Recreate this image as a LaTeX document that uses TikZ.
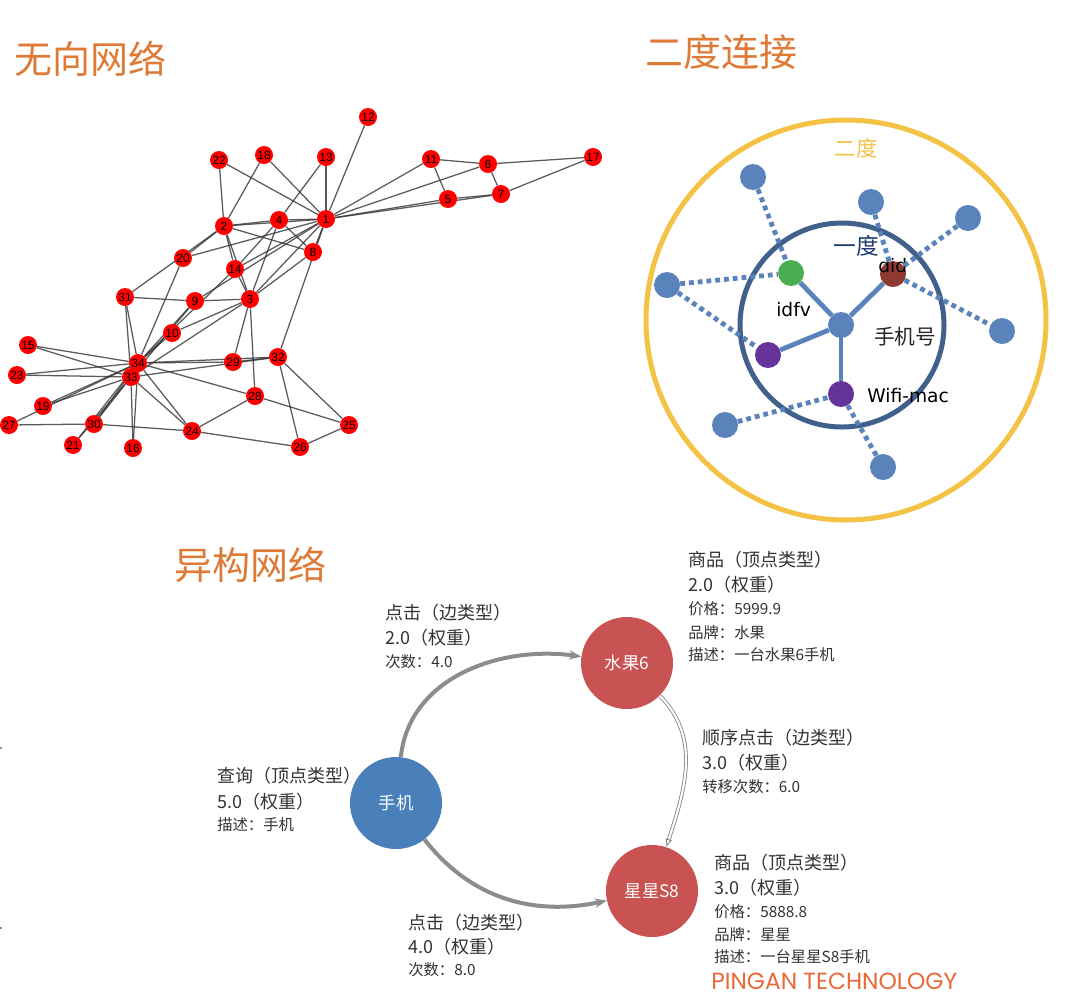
\documentclass[tikz,border=0pt]{standalone}
\usepackage{fontspec}
\setmainfont{Noto Sans CJK SC}
\newfontfamily\latf{Liberation Sans}
\newfontfamily\dejf{DejaVu Sans}
\newfontfamily\popf{Poppins}
\usetikzlibrary{arrows.meta,backgrounds}
\definecolor{ttl}{HTML}{DE7A36}
\definecolor{gold}{HTML}{F4C245}
\definecolor{navyc}{HTML}{41608C}
\definecolor{bluen}{HTML}{5A83BB}
\definecolor{greenn}{HTML}{4CAE52}
\definecolor{brownn}{HTML}{8E3A33}
\definecolor{purplen}{HTML}{66339A}
\definecolor{navyt}{HTML}{1F3A6E}
\definecolor{hblue}{HTML}{4A80BA}
\definecolor{hred}{HTML}{C95252}
\definecolor{txtc}{HTML}{333333}
\definecolor{garr}{HTML}{8C8C8C}
\definecolor{pingan}{HTML}{E8683A}
\tikzset{
  titletext/.style={anchor=west, text=ttl, font=\fontsize{28.5}{30}\selectfont, inner sep=0pt},
  kn/.style={circle, fill=red, inner sep=0pt, minimum size=13.5pt, font=\latf\fontsize{9}{9}\selectfont, text=black},
  kedge/.style={draw=black!80, line width=0.95pt, opacity=0.8},
  sn/.style={circle, fill=bluen, inner sep=0pt, minimum size=19.5pt},
  dotline/.style={draw=bluen, line width=3.6pt, dash pattern=on 3.6pt off 3pt},
  solidline/.style={draw=bluen, line width=3.6pt},
  hnode/.style={circle, inner sep=0pt, minimum size=69pt, text=white, font=\fontsize{13}{14}\selectfont},
  bigl/.style={anchor=west, inner sep=0pt, text=txtc, font=\fontsize{13.5}{14}\selectfont},
  smalll/.style={anchor=west, inner sep=0pt, text=txtc, font=\fontsize{11.5}{12}\selectfont},
  garrow/.style={draw=garr, line width=3pt, -{Stealth[length=9pt,width=7pt]}},
  darrow/.style={draw=black!50, line width=0.6pt, double=white, double distance=1.6pt, -{Latex[length=6pt,width=5pt,open]}}
}
\begin{document}
\begin{tikzpicture}[x=0.75pt,y=-0.75pt]
\useasboundingbox (0,0) rectangle (1080,1001);
\begin{pgfonlayer}{background}
\fill[white] (0,0) rectangle (1080,1001);
\end{pgfonlayer}

% titles
\node[titletext] (t1) at (14,59) {无向网络};
\node[titletext] (t2) at (645,52) {二度连接};
\node[titletext] (t3) at (174,565) {异构网络};

% ---------- undirected network ----------
\foreach \n/\x/\y in {1/326/219, 2/224/226, 3/250/299, 4/279/220, 5/448/199, 6/488/164, 7/501/194, 8/313/252,
  9/195/301, 10/172/333, 11/431/159, 12/368/117, 13/326/157, 14/235/269, 15/28/345, 16/133/448, 17/593/157,
  18/264/155, 19/43/406, 20/183/258, 21/73/445, 22/219/160, 23/17/375, 24/192/431, 25/349/425, 26/300/447,
  27/9/425, 28/255/396, 29/233/362, 30/94/424, 31/125/297, 32/278/357, 33/131/377, 34/138/363}
  \node[kn] (k\n) at (\x,\y) {\n};
\begin{pgfonlayer}{background}
\foreach \a/\b in {1/2,1/3,1/4,1/5,1/6,1/7,1/8,1/9,1/11,1/12,1/13,1/14,1/18,1/20,1/22,1/32,
  2/3,2/4,2/8,2/14,2/18,2/20,2/22,2/31,
  3/4,3/8,3/9,3/10,3/14,3/28,3/29,3/33,
  4/8,4/13,4/14, 5/7,5/11, 6/7,6/11,6/17, 7/17,
  9/31,9/33,9/34, 10/34, 14/34, 15/33,15/34, 16/33,16/34, 19/33,19/34, 20/34,
  21/33,21/34, 23/33,23/34, 24/26,24/28,24/30,24/33,24/34, 25/26,25/28,25/32, 26/32,
  27/30,27/34, 28/34, 29/32,29/34, 30/33,30/34, 31/33,31/34, 32/33,32/34, 33/34}
  \draw[kedge] (k\a) -- (k\b);
\end{pgfonlayer}

% ---------- second-degree diagram ----------
\node[circle, draw=gold, line width=3.75pt, minimum size=300pt, inner sep=0pt] (outer) at (846,320) {};
\node[circle, draw=navyc, line width=3.75pt, minimum size=153pt, inner sep=0pt] (inner) at (842,325) {};
\node[text=gold, font=\fontsize{16}{17}\selectfont, inner sep=0pt] (l2) at (856,148) {二度};
\node[text=navyt, font=\fontsize{17}{18}\selectfont, inner sep=0pt] (l1) at (856,246) {一度};

\node[sn] (c) at (841,325) {};
\node[sn, fill=greenn] (g) at (791,273) {};
\node[sn, fill=brownn] (br) at (893,274) {};
\node[sn, fill=purplen] (p1) at (768,355) {};
\node[sn, fill=purplen] (p2) at (841,394) {};
\node[sn] (o1) at (753,177) {};
\node[sn] (o2) at (871,202) {};
\node[sn] (o3) at (968,218) {};
\node[sn] (o4) at (667,285) {};
\node[sn] (o5) at (1002,331) {};
\node[sn] (o6) at (725,425) {};
\node[sn] (o7) at (883,467) {};

\node[anchor=west, inner sep=0pt, font=\dejf\fontsize{14}{15}\selectfont] (ldid) at (878,266) {did};
\node[anchor=west, inner sep=0pt, font=\dejf\fontsize{14}{15}\selectfont] (lidfv) at (776,310) {idfv};
\node[anchor=west, inner sep=0pt, font=\fontsize{15.5}{16}\selectfont, text=black!85] (lphone) at (874,337) {手机号};
\node[anchor=west, inner sep=0pt, font=\dejf\fontsize{14}{15}\selectfont] (lwifi) at (867,396) {Wifi-mac};

\draw[dotline] (o1) -- (g);
\draw[dotline] (o4) -- (g);
\draw[dotline] (o4) -- (p1);
\draw[dotline] (o2) -- (br);
\draw[dotline] (o3) -- (br);
\draw[dotline] (br) -- (o5);
\draw[dotline] (o6) -- (p2);
\draw[dotline] (p2) -- (o7);
\draw[solidline] (c) -- (g);
\draw[solidline] (c) -- (br);
\draw[solidline] (c) -- (p1);
\draw[solidline] (c) -- (p2);

% ---------- heterogeneous network ----------
\node[hnode, fill=hblue] (phone) at (396,803) {手机};
\node[hnode, fill=hred] (fruit) at (627,663) {水果6};
\node[hnode, fill=hred] (star) at (652,891) {星星S8};

\draw[garrow] (phone) to[out=84, in=172] (fruit);
\draw[garrow] (phone) to[out=-52, in=192] (star);
\draw[darrow] (fruit) to[out=-45, in=72] (star);

% edge labels
\node[bigl] (a1) at (385,613) {点击（边类型）};
\node[bigl] (a2) at (385,638) {2.0（权重）};
\node[smalll] (a3) at (385,662) {次数：4.0};

\node[bigl] (b1) at (217,776) {查询（顶点类型）};
\node[bigl] (b2) at (217,802) {5.0（权重）};
\node[smalll] (b3) at (217,825) {描述：手机};

\node[bigl] (c1) at (688,560) {商品（顶点类型）};
\node[bigl] (c2) at (688,585) {2.0（权重）};
\node[smalll] (c3) at (688,609) {价格：5999.9};
\node[smalll] (c4) at (688,633) {品牌：水果};
\node[smalll] (c5) at (688,655) {描述：一台水果6手机};

\node[bigl] (d1) at (702,738) {顺序点击（边类型）};
\node[bigl] (d2) at (702,763) {3.0（权重）};
\node[smalll] (d3) at (702,787) {转移次数：6.0};

\node[bigl] (e1) at (714,863) {商品（顶点类型）};
\node[bigl] (e2) at (714,888) {3.0（权重）};
\node[smalll] (e3) at (714,912) {价格：5888.8};
\node[smalll] (e4) at (714,935) {品牌：星星};
\node[smalll] (e5) at (714,957) {描述：一台星星S8手机};

\node[bigl] (f1) at (408,923) {点击（边类型）};
\node[bigl] (f2) at (408,947) {4.0（权重）};
\node[smalll] (f3) at (408,970) {次数：8.0};

\node[anchor=west, inner sep=0pt, text=pingan, font=\popf\fontsize{17.5}{18}\selectfont] (pa) at (711,981) {PINGAN TECHNOLOGY};

% tiny marks at left edge
\fill[black!60] (1,748) circle[radius=0.8pt];
\fill[black!60] (1,928) circle[radius=0.8pt];
\end{tikzpicture}
\end{document}
